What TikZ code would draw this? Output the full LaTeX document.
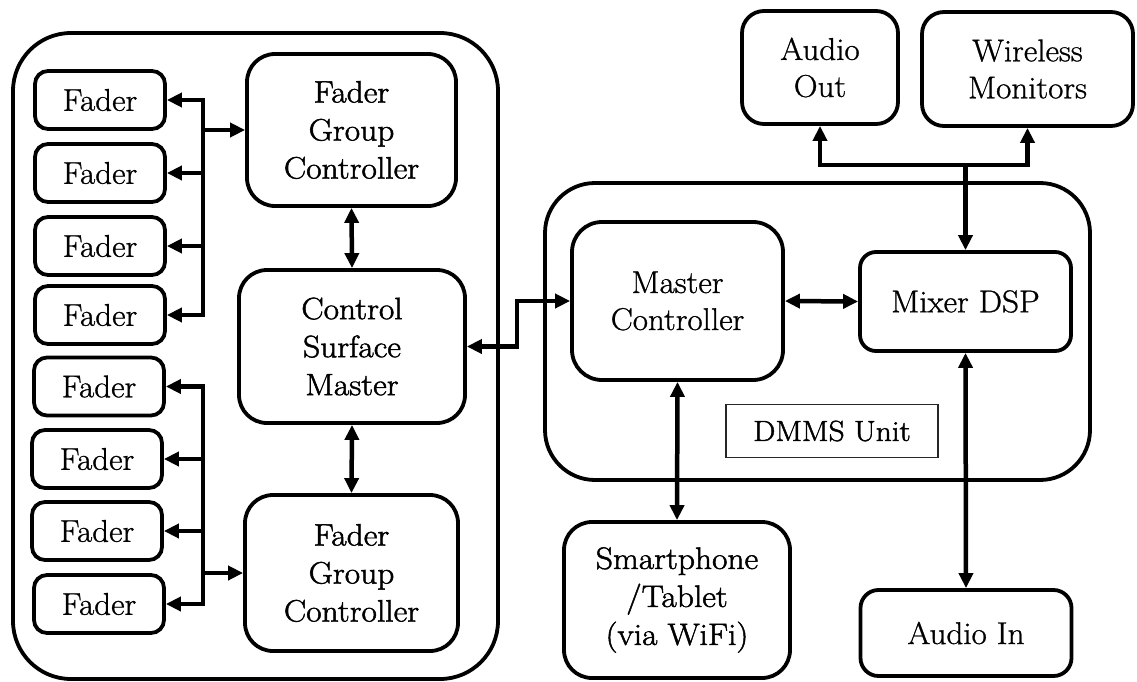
\documentclass[tikz,border=0pt]{standalone}
\usepackage{fontspec}
\newfontfamily\timesfont{Latin Modern Roman}[FakeBold=0.9, FakeStretch=1.05]
\newfontfamily\camfont{Latin Modern Roman}[FakeBold=1.6, FakeStretch=1.08]
\usetikzlibrary{arrows.meta}
\newcommand\tfont{\timesfont\fontsize{31.5}{37}\selectfont}
\newcommand\cfont{\camfont\fontsize{31}{38}\selectfont}
\begin{document}
\begin{tikzpicture}[x=1pt,y=-1pt,
  block/.style={draw, line width=3.8pt, align=center, inner sep=0pt},
  fader/.style={block, rounded corners=13pt, minimum width=130pt, minimum height=58pt, font=\tfont},
  frame/.style={draw, line width=3.8pt},
  wire/.style={line width=4.5pt, line cap=rect},
  con/.style={line width=4.5pt, -{Triangle[length=15pt,width=14pt]}},
  bicon/.style={line width=4.5pt, {Triangle[length=15pt,width=14pt]}-{Triangle[length=15pt,width=14pt]}}
]
\fill[white] (0,0) rectangle (1137,682);
\useasboundingbox (0,0) rectangle (1137,682);

% containers
\draw[frame, rounded corners=58pt] (13,33) rectangle (498,679);
\draw[frame, rounded corners=50pt] (545,183) rectangle (1090,480);

% faders, upper group
\node[fader] (f1) at (100,100) {Fader};
\node[fader] (f2) at (100,173) {Fader};
\node[fader] (f3) at (100,246) {Fader};
\node[fader] (f4) at (100,315) {Fader};
% faders, lower group
\node[fader] (f5) at (99,386.5) {Fader};
\node[fader] (f6) at (97,459) {Fader};
\node[fader] (f7) at (97,531) {Fader};
\node[fader] (f8) at (99,604) {Fader};

% control surface blocks
\node[block, rounded corners=28pt, minimum width=209pt, minimum height=152pt, font=\cfont]
  (fgc1) at (351.5,130) {Fader\\Group\\Controller};
\node[block, rounded corners=28pt, minimum width=226pt, minimum height=153pt, font=\cfont]
  (csm) at (352,346.5) {Control\\Surface\\Master};
\node[block, rounded corners=28pt, minimum width=213pt, minimum height=156pt, font=\cfont]
  (fgc2) at (351.5,573) {Fader\\Group\\Controller};

% DMMS unit blocks
\node[block, rounded corners=30pt, minimum width=211pt, minimum height=158pt, font=\tfont]
  (mc) at (677.5,301) {Master\\Controller};
\node[block, rounded corners=16pt, minimum width=211pt, minimum height=99pt, font=\tfont]
  (mix) at (965.5,301.5) {Mixer DSP};
\node[draw=black!85, line width=1.2pt, minimum width=212pt, minimum height=53pt, inner sep=0pt,
  font=\camfont\fontsize{29}{34}\selectfont]
  (unit) at (832,431) {DMMS Unit\hspace{20pt}};

% external devices
\node[block, rounded corners=22pt, minimum width=156pt, minimum height=113pt, font=\tfont]
  (aout) at (820,67.5) {Audio\\Out};
\node[block, rounded corners=22pt, minimum width=211pt, minimum height=114pt, font=\tfont]
  (wm) at (1027.5,69) {Wireless\\Monitors};
\node[block, rounded corners=28pt, minimum width=226pt, minimum height=156pt, font=\cfont]
  (phone) at (677,600) {Smartphone\\/Tablet\\(via WiFi)};
\node[block, rounded corners=18pt, minimum width=211pt, minimum height=86pt, font=\tfont]
  (ain) at (966,633) {Audio In};

% upper fader bus
\coordinate (tb) at (203,0);
\draw[wire] (f1.east -| tb) -- (f4.east -| tb);
\foreach \f in {f1,f2,f3,f4} \draw[con] (\f.east -| tb) -- (\f.east);
\draw[con] (fgc1.west -| tb) -- (fgc1.west);

% lower fader bus
\coordinate (bb) at (203,0);
\draw[wire] (f5.east -| bb) -- (f8.east -| bb);
\foreach \f in {f5,f6,f7,f8} \draw[con] (\f.east -| bb) -- (\f.east);
\draw[con] (fgc2.west -| bb) -- (fgc2.west);

% control links
\draw[bicon] (fgc1.south) -- (csm.north);
\draw[bicon] (csm.south) -- (fgc2.north);
\draw[bicon] (csm.east) -- ++(50,0) |- (mc.west);
\draw[bicon] (mc.east) -- (mix.west);
\draw[bicon] (mc.south) -- (phone.north);
\draw[bicon] (mix.south) -- (ain.north);

% audio outputs
\coordinate (j) at (mix.north |- 0,165);
\draw[con] (j) -- (mix.north);
\draw[con] (j) -| (aout.south);
\draw[con] (j) -| (wm.south);
\end{tikzpicture}
\end{document}
